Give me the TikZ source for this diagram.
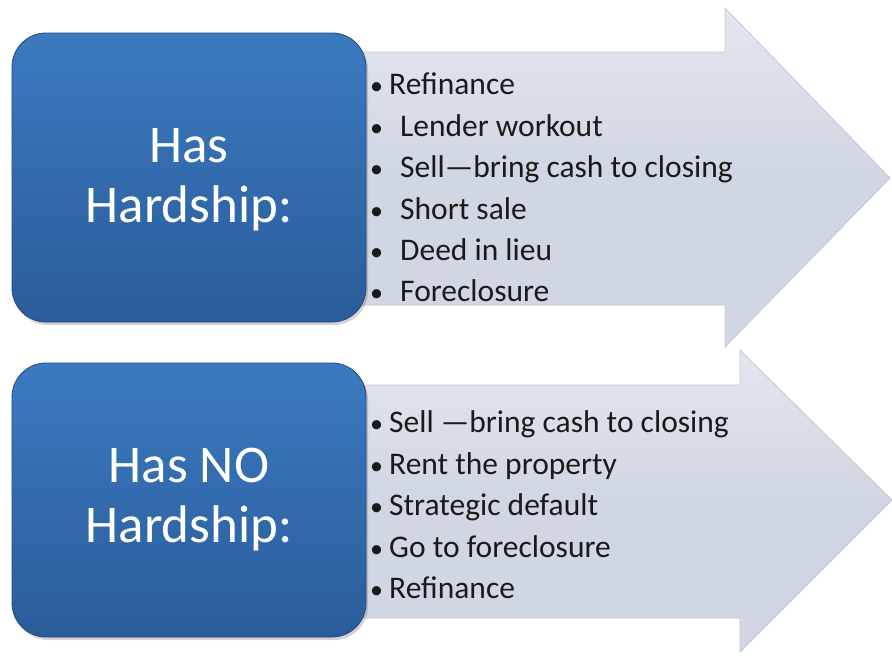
\documentclass[tikz,border=0pt]{standalone}
\usepackage{fontspec}
\setmainfont{Carlito}
\usetikzlibrary{shadows}
\definecolor{boxtop}{HTML}{3B7AC0}
\definecolor{boxbot}{HTML}{2A5C9A}
\definecolor{arrowfill}{HTML}{D0D6E2}
\definecolor{arrowtop}{HTML}{E2E6EE}
\definecolor{arrowline}{HTML}{C2C9D6}
\definecolor{txt}{HTML}{1A1A1A}
\tikzset{
  x=1pt, y=-1pt,
  bluebox/.style={rounded corners=34pt, top color=boxtop, bottom color=boxbot,
    draw=boxbot!80!black, line width=0.8pt, drop shadow={opacity=0.35, shadow xshift=2pt, shadow yshift=-3pt}},
  bigarrow/.style={top color=arrowtop, bottom color=arrowfill, middle color=arrowfill, draw=arrowline, line width=0.8pt},
  boxtext/.style={text=white, font=\fontsize{53}{60}\selectfont, align=center},
  item/.style={anchor=base west, text=txt, font=\fontsize{31.5}{36}\selectfont, inner sep=0pt},
  bul/.style={anchor=base west, text=txt, font=\fontsize{26}{30}\selectfont, inner sep=0pt}
}
\begin{document}
\begin{tikzpicture}
\useasboundingbox (0,0) rectangle (892,656);
% top arrow
\path[bigarrow] (355,52) -- (725,52) -- (725,8) -- (890,178) -- (725,347) -- (725,305) -- (355,305) -- cycle;
% bottom arrow
\path[bigarrow] (355,385) -- (740,385) -- (740,350) -- (892,500) -- (740,652) -- (740,618) -- (355,618) -- cycle;
% blue boxes
\path[bluebox] (12,33) rectangle (366,322);
\node (b1) at (189,180) {};
\path[bluebox] (12,363) rectangle (366,637);
\node (b2) at (189,500) {};
\node[boxtext] (t1) at (b1) {Has\\Hardship:};
\node[boxtext] (t2) at (b2) {Has NO\\Hardship:};
% top list
\node[bul] (p1) at (370,94) {•};
\node[item] (i1) at (389,94) {Refinance};
\node[bul] (p2) at (370,136) {•};
\node[item] (i2) at (400,136) {Lender workout};
\node[bul] (p3) at (370,177) {•};
\node[item] (i3) at (400,177) {Sell—bring cash to closing};
\node[bul] (p4) at (370,219) {•};
\node[item] (i4) at (400,219) {Short sale};
\node[bul] (p5) at (370,260) {•};
\node[item] (i5) at (400,260) {Deed in lieu};
\node[bul] (p6) at (370,301) {•};
\node[item] (i6) at (400,301) {Foreclosure};
% bottom list
\node[bul] (q1) at (370,432) {•};
\node[item] (j1) at (389,432) {Sell —bring cash to closing};
\node[bul] (q2) at (370,474) {•};
\node[item] (j2) at (389,474) {Rent the property};
\node[bul] (q3) at (370,515) {•};
\node[item] (j3) at (389,515) {Strategic default};
\node[bul] (q4) at (370,557) {•};
\node[item] (j4) at (389,557) {Go to foreclosure};
\node[bul] (q5) at (370,598) {•};
\node[item] (j5) at (389,598) {Refinance};
\end{tikzpicture}
\end{document}
